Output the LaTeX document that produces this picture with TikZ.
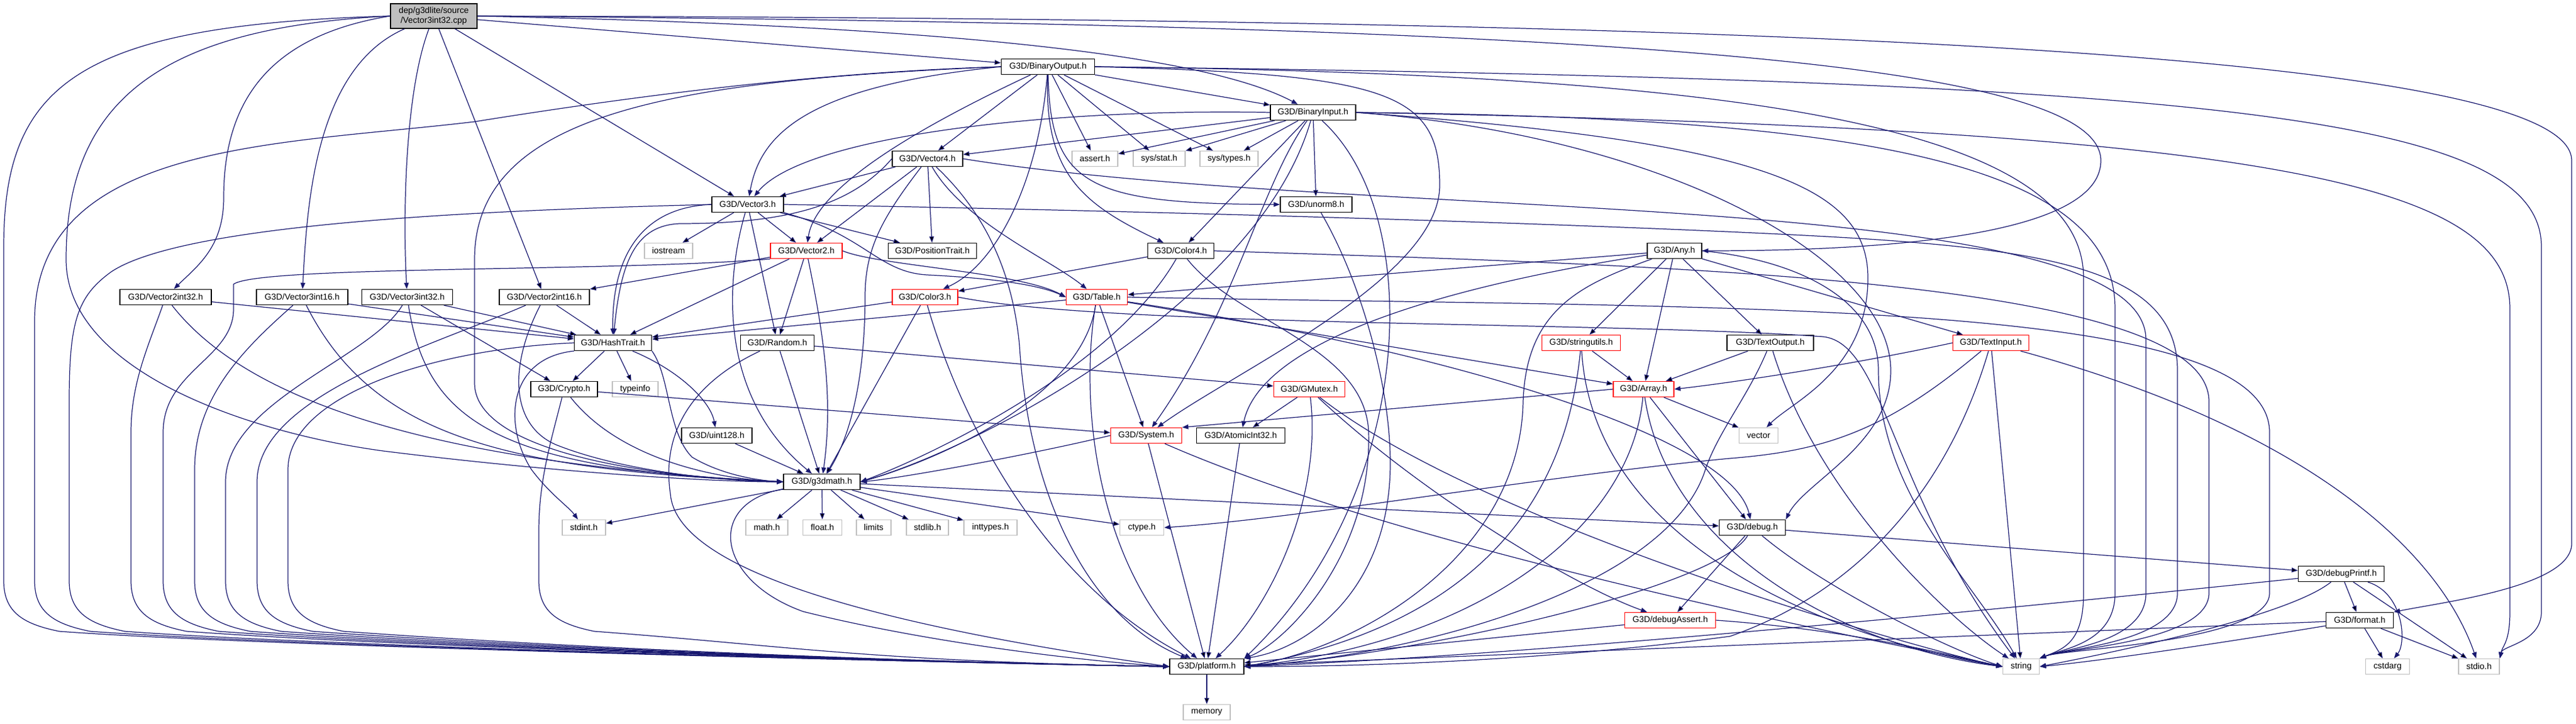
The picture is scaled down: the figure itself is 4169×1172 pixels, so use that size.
\documentclass[tikz,border=0pt]{standalone}
\usepackage{fontspec}
\setmainfont{Liberation Sans}
\usetikzlibrary{arrows.meta}
\definecolor{edgeblue}{HTML}{191970}
\definecolor{sysgray}{HTML}{BFBFBF}
\definecolor{hdrred}{HTML}{FF0000}
\tikzset{
  hdr/.style={draw=black, fill=white, line width=0.8pt, minimum width=#1*0.02cm,
    minimum height=0.5cm, inner sep=0pt, font=\fontsize{7.9}{9.5}\selectfont},
  redhdr/.style={hdr=#1, draw=hdrred},
  syshdr/.style={hdr=#1, draw=sysgray},
  srcfile/.style={hdr=#1, fill=sysgray, minimum height=0.8cm, align=center},
  dep/.style={-{Triangle[length=0.2cm,width=0.15cm]}, draw=edgeblue, line width=0.7pt},
  tobase/.style={insert path={-- (#1,940) .. controls (#1,990) and ({#1+30},1010)
    .. ({#1+90},1022) .. controls ({#1+400},1045) and (1400,1070) .. (P.west)}},
  tostring/.style={insert path={-- (#1,960) .. controls (#1,1040) and (3340,1050) .. (str.north east)}},
  tostdio/.style={insert path={-- (#1,990) .. controls (#1,1040) and (4050,1045) .. (stdio.north east)}}
}
\begin{document}
\begin{tikzpicture}[x=0.02cm, y=-0.02cm]
      \useasboundingbox (0,0) rectangle (4169,1172);
      \node[srcfile=140] (cpp) at (702,26) {dep/g3dlite/source\\/Vector3int32.cpp};
      \node[hdr=151] (BO) at (1696,108) {G3D/BinaryOutput.h};
      \node[hdr=138] (BI) at (2125,182) {G3D/BinaryInput.h};
      \node[hdr=114] (V4) at (1501,257) {G3D/Vector4.h};
      \node[syshdr=74] (ash) at (1772,257) {assert.h};
      \node[syshdr=84] (sst) at (1876,257) {sys/stat.h};
      \node[syshdr=94] (sty) at (1989,257) {sys/types.h};
      \node[hdr=116] (V3) at (1210,331) {G3D/Vector3.h};
      \node[hdr=116] (un8) at (2130,331) {G3D/unorm8.h};
      \node[syshdr=78] (ios) at (1082,406) {iostream};
      \node[redhdr=116] (V2) at (1305,406) {G3D/Vector2.h};
      \node[hdr=143] (PT) at (1509,406) {G3D/PositionTrait.h};
      \node[hdr=107] (C4) at (1911,406) {G3D/Color4.h};
      \node[hdr=88] (Any) at (2710,406) {G3D/Any.h};
      \node[hdr=148] (V2i32) at (268,481) {G3D/Vector2int32.h};
      \node[hdr=148] (V3i16) at (489,481) {G3D/Vector3int16.h};
      \node[hdr=147] (V3i32) at (659,481) {G3D/Vector3int32.h};
      \node[hdr=146] (V2i16) at (881,481) {G3D/Vector2int16.h};
      \node[redhdr=106] (C3) at (1497,481) {G3D/Color3.h};
      \node[redhdr=99] (Tab) at (1775,481) {G3D/Table.h};
      \node[hdr=125] (HT) at (992,555) {G3D/HashTrait.h};
      \node[hdr=119] (Rnd) at (1258,555) {G3D/Random.h};
      \node[redhdr=127] (su) at (2559,555) {G3D/stringutils.h};
      \node[hdr=140] (TO) at (2865,555) {G3D/TextOutput.h};
      \node[redhdr=123] (TI) at (3222,555) {G3D/TextInput.h};
      \node[hdr=108] (Cry) at (913,630) {G3D/Crypto.h};
      \node[syshdr=74] (tinfo) at (1028,630) {typeinfo};
      \node[redhdr=115] (GM) at (2119,630) {G3D/GMutex.h};
      \node[redhdr=98] (Arr) at (2660,630) {G3D/Array.h};
      \node[hdr=114] (u128) at (1160,705) {G3D/uint128.h};
      \node[redhdr=115] (Sys) at (1855,705) {G3D/System.h};
      \node[hdr=143] (AI) at (2008,705) {G3D/AtomicInt32.h};
      \node[syshdr=63] (vec) at (2846,705) {vector};
      \node[hdr=124] (gm) at (1330,780) {G3D/g3dmath.h};
      \node[syshdr=70] (sint) at (945,854) {stdint.h};
      \node[syshdr=68] (mth) at (1241,854) {math.h};
      \node[syshdr=63] (flt) at (1331,854) {float.h};
      \node[syshdr=56] (lim) at (1414,854) {limits};
      \node[syshdr=68] (slib) at (1501,854) {stdlib.h};
      \node[syshdr=86] (ityp) at (1603,854) {inttypes.h};
      \node[syshdr=71] (cty) at (1848,854) {ctype.h};
      \node[hdr=107] (dbg) at (2836,854) {G3D/debug.h};
      \node[hdr=139] (dpf) at (3789,929) {G3D/debugPrintf.h};
      \node[redhdr=147] (das) at (2703,1004) {G3D/debugAssert.h};
      \node[hdr=109] (fmt) at (3819,1004) {G3D/format.h};
      \node[hdr=120] (P) at (1953,1079) {G3D/platform.h};
      \node[syshdr=59] (str) at (3271,1079) {string};
      \node[syshdr=71] (carg) at (3864,1079) {cstdarg};
      \node[syshdr=66] (stdio) at (4012,1079) {stdio.h};
      \node[syshdr=76] (mem) at (1953,1153) {memory};

      \path[dep] (cpp) edge (BO) edge (V3) edge (V2i16);
      \draw[dep] (cpp.west) .. controls (120,40) and (6,140) .. (6,400) [tobase=6];
      \draw[dep] (cpp.west) .. controls (250,45) and (107,170) .. (107,420) .. controls (107,600) and (400,700) .. (620,730) .. controls (900,765) and (1150,780) .. (gm.west);
      \draw[dep] (cpp.west) .. controls (420,60) and (362,180) .. (362,320) .. controls (362,400) and (320,430) .. (V2i32);
      \draw[dep] (cpp) .. controls (510,110) and (497,330) .. (V3i16);
      \draw[dep] (cpp) .. controls (655,150) and (652,350) .. (V3i32);
      \draw[dep] (cpp.east) .. controls (1700,45) and (1990,110) .. (BI);
      \draw[dep] (cpp.east) .. controls (2600,40) and (3400,100) .. (3400,260) .. controls (3400,390) and (3000,406) .. (Any.east);
      \draw[dep] (cpp.east) .. controls (2800,30) and (4162,80) .. (4162,260) -- (4162,880) .. controls (4162,950) and (3950,975) .. (fmt.north east);

      \path[dep] (BO) edge (V4) edge (ash) edge (sst) edge (sty) edge (BI);
      \draw[dep] (BO.west) .. controls (1300,118) and (1000,160) .. (768,197) .. controls (450,235) and (56,230) .. (56,520) [tobase=56];
      \draw[dep] (BO.west) .. controls (1100,130) and (768,180) .. (768,420) -- (768,620) .. controls (768,720) and (1000,770) .. (gm.west);
      \draw[dep] (BO.west) .. controls (1300,140) and (1230,220) .. (V3);
      \draw[dep] (BO) .. controls (1500,200) and (1320,300) .. (V2);
      \draw[dep] (BO) .. controls (1680,300) and (1610,430) .. (C3);
      \draw[dep] (BO) .. controls (1690,280) and (1750,330) .. (C4);
      \draw[dep] (BO) .. controls (1700,300) and (1760,330) .. (un8.west);
      \draw[dep] (BO.east) .. controls (2250,120) and (2330,150) .. (2330,300) .. controls (2330,450) and (2000,600) .. (Sys);
      \draw[dep] (BO.east) .. controls (2800,120) and (3372,200) .. (3372,450) [tostring=3372];
      \draw[dep] (BO.east) .. controls (3600,130) and (4113,190) .. (4113,400) [tostdio=4113];

      \path[dep] (BI) edge (V4) edge (ash) edge (sst) edge (sty) edge (un8) edge (C4);
      \draw[dep] (BI.west) .. controls (1700,175) and (1300,220) .. (V3);
      \draw[dep] (BI) .. controls (2040,480) and (1600,720) .. (gm.east);
      \draw[dep] (BI) .. controls (2040,300) and (2000,500) .. (Sys);
      \draw[dep] (BI) .. controls (2310,350) and (2290,800) .. (P.north east);
      \draw[dep] (BI.east) .. controls (2700,220) and (3060,420) .. (3060,600) .. controls (3060,720) and (2920,780) .. (dbg.north east);
      \draw[dep] (BI.east) .. controls (2850,230) and (3023,300) .. (3023,450) .. controls (3023,600) and (2900,650) .. (vec);
      \draw[dep] (BI.east) .. controls (3000,190) and (3423,260) .. (3423,500) [tostring=3423];
      \draw[dep] (BI.east) .. controls (3700,210) and (4062,300) .. (4062,500) [tostdio=4062];

      \path[dep] (V4) edge (V3) edge (V2) edge (PT);
      \draw[dep] (V4) .. controls (1560,360) and (1700,420) .. (Tab);
      \draw[dep] (V4.west) .. controls (1380,330) and (1280,362) .. (1100,362) .. controls (1030,365) and (1005,420) .. (HT);
      \draw[dep] (V4) .. controls (1430,350) and (1400,400) .. (1400,480) .. controls (1400,600) and (1380,700) .. (gm);
      \draw[dep] (V4) .. controls (1600,350) and (1640,450) .. (1650,560) .. controls (1665,800) and (1760,1000) .. (P);
      \draw[dep] (V4.east) .. controls (2200,360) and (3473,300) .. (3473,550) [tostring=3473];

      \path[dep] (V3) edge (ios) edge (V2) edge (Rnd) edge (PT);
      \draw[dep] (V3.west) .. controls (1050,335) and (990,400) .. (HT);
      \draw[dep] (V3) .. controls (1175,450) and (1160,640) .. (gm);
      \draw[dep] (V3.south east) .. controls (1400,380) and (1420,440) .. (1500,445) .. controls (1600,450) and (1680,460) .. (Tab.west);
      \draw[dep] (V3.west) .. controls (800,340) and (300,360) .. (180,440) .. controls (125,480) and (112,520) .. (112,650) [tobase=112];
      \draw[dep] (V3.east) .. controls (1800,340) and (2500,360) .. (2900,380) .. controls (3300,400) and (3524,430) .. (3524,600) [tostring=3524];

      \path[dep] (V2) edge (V2i16) edge (HT) edge (Rnd);
      \draw[dep] (V2) .. controls (1335,550) and (1348,650) .. (gm);
      \draw[dep] (V2.east) .. controls (1420,430) and (1650,440) .. (Tab.west);
      \draw[dep] (V2.south west) .. controls (1000,440) and (420,430) .. (378,460) -- (378,500) .. controls (378,580) and (264,600) .. (264,700) [tobase=264];

      \path[dep] (C4) edge (C3);
      \draw[dep] (C4) .. controls (1800,600) and (1500,740) .. (gm.east);
      \draw[dep] (C4) .. controls (2000,520) and (2210,560) .. (2215,700) .. controls (2220,900) and (2080,1040) .. (P.north east);
      \draw[dep] (C4.east) .. controls (2700,430) and (3575,450) .. (3575,650) [tostring=3575];
      \draw[dep] (un8) .. controls (2200,450) and (2250,620) .. (2250,750) .. controls (2250,950) and (2120,1050) .. (P.north east);

      \path[dep] (C3) edge (HT) edge (gm);
      \draw[dep] (C3) .. controls (1560,700) and (1700,950) .. (P);
      \draw[dep] (C3.east) .. controls (1800,530) and (2600,520) .. (2950,545) .. controls (3050,555) and (3060,800) .. (str);

      \path[dep] (Tab) edge (HT) edge (Sys) edge (Arr);
      \draw[dep] (Tab) .. controls (1740,700) and (1800,950) .. (P);
      \draw[dep] (Tab) .. controls (1750,650) and (1500,750) .. (gm.east);
      \draw[dep] (Tab) .. controls (2300,560) and (2800,700) .. (dbg);
      \draw[dep] (Tab.east) .. controls (2800,500) and (3673,480) .. (3673,700) [tostring=3673];

      \path[dep] (Any) edge (Tab) edge (su) edge (Arr) edge (TO) edge (TI);
      \draw[dep] (Any) .. controls (2300,470) and (2040,560) .. (AI);
      \draw[dep] (Any) .. controls (2560,460) and (2470,500) .. (2465,650) .. controls (2460,900) and (2200,1050) .. (P.east);
      \draw[dep] (Any.east) .. controls (2900,420) and (3040,480) .. (3040,600) .. controls (3040,800) and (3200,950) .. (str);

      \path[dep] (su) edge (Arr);
      \draw[dep] (su) .. controls (2540,750) and (2450,1000) .. (P.east);
      \draw[dep] (su) .. controls (2580,900) and (3000,1040) .. (str.west);

      \path[dep] (TO) edge (Arr);
      \draw[dep] (TO) .. controls (2830,640) and (2780,700) .. (2760,760) .. controls (2700,950) and (2300,1060) .. (P.east);
      \draw[dep] (TO) .. controls (2940,800) and (3150,1000) .. (str);

      \path[dep] (TI) edge (str);
      \draw[dep] (TI.west) .. controls (3000,590) and (2800,620) .. (Arr.east);
      \draw[dep] (TI) .. controls (3150,800) and (3000,960) .. (2800,1030) .. controls (2500,1070) and (2200,1079) .. (P.east);
      \draw[dep] (TI) .. controls (3050,700) and (2950,730) .. (2800,742) .. controls (2500,770) and (2100,840) .. (cty.east);
      \draw[dep] (TI) .. controls (3750,700) and (3950,900) .. (stdio);

      \path[dep] (HT) edge (Cry) edge (tinfo);
      \draw[dep] (HT) .. controls (1100,600) and (1150,650) .. (u128);
      \draw[dep] (HT.south east) .. controls (1085,610) and (1080,700) .. (1120,740) .. controls (1170,770) and (1230,778) .. (gm.west);
      \draw[dep] (HT.west) .. controls (700,565) and (466,640) .. (466,760) [tobase=466];
      \draw[dep] (HT.south west) .. controls (820,580) and (815,690) .. (860,760) .. controls (890,800) and (920,820) .. (sint);

      \path[dep] (Cry) edge (Sys);
      \draw[dep] (Cry) .. controls (890,720) and (872,780) .. (872,860) [tobase=872];
      \draw[dep] (Cry) .. controls (1000,740) and (1150,775) .. (gm.west);

      \path[dep] (V2i32) edge (HT);
      \path[dep] (V3i16) edge (HT);
      \path[dep] (V3i32) edge (HT) edge (Cry);
      \path[dep] (V2i16) edge (HT);
      \draw[dep] (V2i32) .. controls (240,560) and (212,620) .. (212,700) [tobase=212];
      \draw[dep] (V3i16) .. controls (400,560) and (315,640) .. (315,760) [tobase=315];
      \draw[dep] (V3i32) .. controls (600,580) and (365,650) .. (365,780) [tobase=365];
      \draw[dep] (V2i16) .. controls (700,560) and (416,640) .. (416,780) [tobase=416];
      \draw[dep] (V2i32) .. controls (400,650) and (700,750) .. (gm.west);
      \draw[dep] (V3i16) .. controls (600,700) and (800,760) .. (gm.west);
      \draw[dep] (V3i32) .. controls (690,680) and (800,760) .. (gm.west);
      \draw[dep] (V2i16) .. controls (820,600) and (830,690) .. (900,720) .. controls (1000,760) and (1150,778) .. (gm.west);

      \path[dep] (Rnd) edge (gm) edge (GM);
      \draw[dep] (Rnd) .. controls (1120,620) and (1070,700) .. (1085,800) .. controls (1095,920) and (1400,1010) .. (P.west);
      \path[dep] (u128) edge (gm);
      \path[dep] (gm) edge (sint) edge (mth) edge (flt) edge (lim) edge (slib) edge (ityp) edge (cty) edge (dbg);
      \draw[dep] (gm) .. controls (1140,815) and (1160,940) .. (1300,990) .. controls (1500,1040) and (1750,1070) .. (P.west);

      \path[dep] (Sys) edge (P);
      \draw[dep] (Sys.west) .. controls (1650,740) and (1450,775) .. (gm.east);
      \draw[dep] (Sys) .. controls (2300,900) and (3100,1050) .. (str.west);

      \path[dep] (GM) edge (AI);
      \path[dep] (AI) edge (P);
      \draw[dep] (GM) .. controls (2140,800) and (2060,980) .. (P);
      \draw[dep] (GM) .. controls (2300,800) and (2550,950) .. (das);
      \draw[dep] (GM) .. controls (2400,850) and (3100,1050) .. (str.west);

      \path[dep] (Arr) edge (dbg) edge (vec);
      \draw[dep] (Arr.west) -- (Sys.north east);
      \draw[dep] (Arr) .. controls (2640,850) and (2400,1040) .. (P.east);
      \draw[dep] (Arr) .. controls (2700,900) and (3000,1050) .. (str.west);

      \path[dep] (dbg) edge (dpf) edge (das);
      \draw[dep] (dbg) .. controls (2780,950) and (2300,1060) .. (P.east);
      \draw[dep] (dbg) .. controls (2950,950) and (3150,1050) .. (str.west);
      \path[dep] (das) edge (P);
      \draw[dep] (das.east) .. controls (3000,1020) and (3150,1060) .. (str.west);
      \path[dep] (dpf) edge (fmt) edge (stdio);
      \draw[dep] (dpf) .. controls (3300,980) and (2500,1060) .. (P.east);
      \draw[dep] (dpf) .. controls (3890,960) and (3895,1040) .. (carg);
      \draw[dep] (dpf) .. controls (3700,1000) and (3400,1060) .. (str.east);
      \path[dep] (fmt) edge (P) edge (carg) edge (stdio);
      \draw[dep] (fmt) .. controls (3600,1040) and (3400,1070) .. (str.east);
      \path[dep] (P) edge (mem);
\end{tikzpicture}
\end{document}
